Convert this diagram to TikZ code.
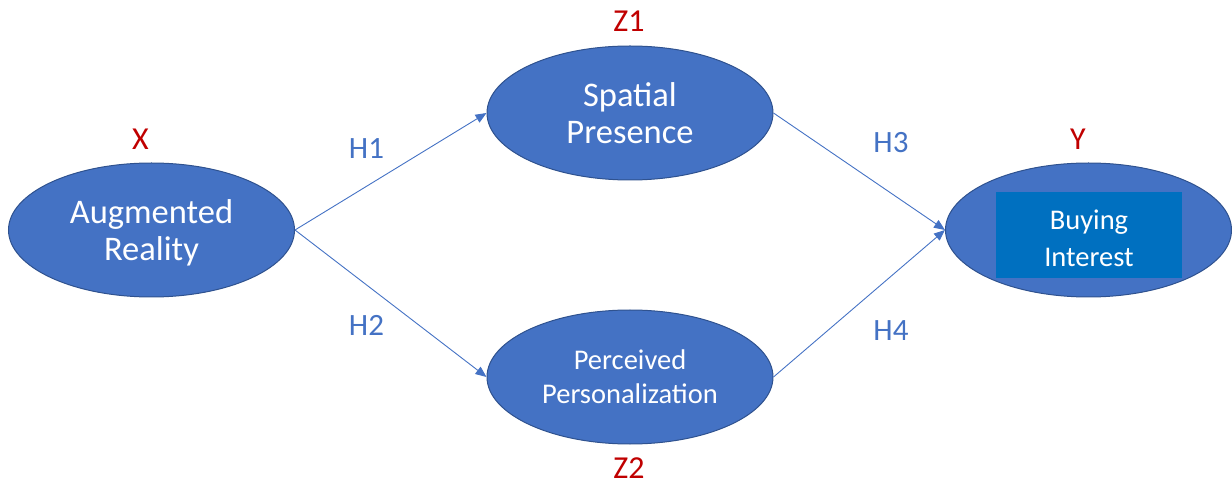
\documentclass[tikz,border=0pt]{standalone}
\usepackage{fontspec}
\setmainfont{Carlito}
\usetikzlibrary{shapes.geometric,arrows.meta}
\definecolor{ellfill}{HTML}{4472C4}
\definecolor{elldraw}{HTML}{2F528F}
\definecolor{rectfill}{HTML}{0070C0}
\definecolor{redlab}{HTML}{C00000}
\definecolor{hlab}{HTML}{4472C4}
\tikzset{
  var/.style={ellipse, fill=ellfill, draw=elldraw, line width=1pt, minimum width=286pt, minimum height=134pt, inner sep=0pt, text=white, align=center},
  letter/.style={text=redlab, font=\fontsize{32}{36}\selectfont},
  hyp/.style={text=hlab, font=\fontsize{31}{34}\selectfont},
  link/.style={draw=ellfill, line width=0.9pt, -{Triangle[length=11pt,width=9pt]}},
  innerbox/.style={fill=rectfill, minimum width=186pt, minimum height=86pt, inner sep=0pt, text=white, align=center}
}
\begin{document}
\begin{tikzpicture}[x=1pt,y=-1pt]
\useasboundingbox (0,0) rectangle (1232,486);
\node[var] (ar) at (151.5,230) {};
\node[text=white, align=center, font=\fontsize{34.5}{37}\selectfont] (artext) at (151.5,232.5) {Augmented\\Reality};
\node[var, font=\fontsize{34.5}{37}\selectfont] (sp) at (630,113) {Spatial\\Presence};
\node[var, font=\fontsize{28.5}{34}\selectfont] (pp) at (630,377) {Perceived\\Personalization};
\node[var] (bi) at (1088.5,230) {};
\node[innerbox] (bibox) at (1089,235) {};
\node[text=white, align=center, font=\fontsize{28.5}{37}\selectfont] (bitext) at (1089,238) {Buying\\Interest};
\node[letter] (lx) at (140.5,139) {X};
\node[letter] (lz1) at (629,21) {Z1};
\node[letter] (ly) at (1078,139) {Y};
\node[letter] (lz2) at (629,468) {Z2};
\node[hyp] (h1) at (366.5,149) {H1};
\node[hyp] (h2) at (366.5,325) {H2};
\node[hyp] (h3) at (891,143) {H3};
\node[hyp] (h4) at (891,331) {H4};
\draw[link] (ar.east) -- (sp.west);
\draw[link] (ar.east) -- (pp.west);
\draw[link] (sp.east) -- (bi.west);
\draw[link] (pp.east) -- (bi.west);
\end{tikzpicture}
\end{document}
